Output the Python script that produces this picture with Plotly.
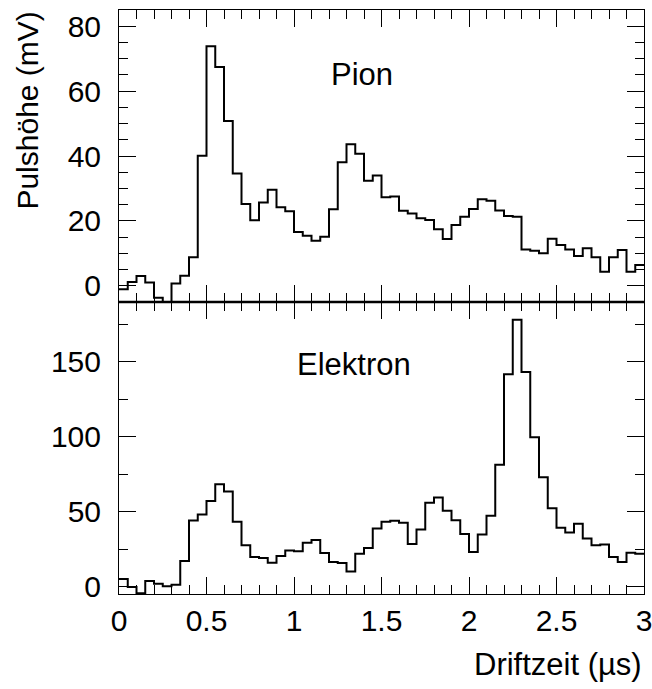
import numpy as np
import plotly.graph_objects as go

# Drift-time histograms: 60 bins of 0.05 us between 0 and 3 us
bin_width = 0.05
n_bins = 60

# Pulse height per drift-time bin (mV)
pion = [-1.1, 1.2, 3.0, 1.0, -3.7, -5.0, 0.7, 3.1, 8.8, 40.1,
        73.8, 67.4, 50.8, 34.6, 25.2, 20.2, 25.7, 29.6, 24.2, 23.0,
        16.6, 15.4, 13.9, 15.1, 23.6, 38.1, 43.6, 40.7, 32.4, 34.0,
        27.3, 27.5, 23.1, 22.3, 20.8, 20.3, 17.4, 14.4, 18.7, 21.3,
        23.7, 26.7, 26.2, 23.2, 21.5, 21.3, 11.2, 10.8, 10.0, 14.5,
        12.6, 11.2, 9.2, 11.6, 8.8, 4.3, 8.8, 11.0, 4.3, 6.4]

elektron = [5.1, -0.4, -4.5, 3.6, 1.8, 0.2, 1.1, 17.0, 44.1, 48.1,
            57.1, 68.3, 63.4, 43.2, 27.5, 19.7, 19.0, 15.9, 20.4, 24.0,
            23.5, 29.3, 31.1, 22.4, 16.3, 15.7, 10.1, 21.9, 25.7, 38.7,
            43.2, 43.9, 42.5, 28.4, 38.1, 56.0, 59.5, 50.6, 44.3, 35.1,
            23.1, 34.7, 47.2, 81.3, 141.7, 178.2, 143.3, 99.6, 73.0, 52.2,
            39.2, 36.0, 41.9, 32.0, 27.5, 28.0, 19.7, 16.3, 22.6, 21.9]

x_ticks = [0, 0.5, 1, 1.5, 2, 2.5, 3]
x_ticklabels = ["0", "0.5", "1", "1.5", "2", "2.5", "3"]

edges = np.arange(n_bins + 1) * bin_width


def step_trace(values, xa, ya):
    # left bin edges plus the closing right edge, drawn as a histogram outline
    return go.Scatter(
        x=list(edges),
        y=list(values) + [values[-1]],
        mode="lines",
        line=dict(shape="hv", color="black", width=2),
        xaxis=xa, yaxis=ya, showlegend=False, hoverinfo="skip",
    )


FONT = "Liberation Sans, Arial, Helvetica, sans-serif"

fig = go.Figure()
fig.add_trace(step_trace(pion, "x2", "y2"))
fig.add_trace(step_trace(elektron, "x", "y"))

common_x = dict(
    range=[0, 3], showline=True, linecolor="black", linewidth=1, mirror="allticks",
    ticks="inside", ticklen=17, tickwidth=1, tickcolor="black",
    tickvals=x_ticks, ticktext=x_ticklabels, ticklabeloverflow="allow",
    automargin=False,
    minor=dict(dtick=0.1, tick0=0, ticks="inside", ticklen=9, tickcolor="black", tickwidth=1),
    showgrid=False, zeroline=False,
)
common_y = dict(
    showline=True, linecolor="black", linewidth=1, mirror="allticks",
    ticks="inside", ticklen=17, tickwidth=1, tickcolor="black", automargin=False,
    showgrid=False, zeroline=False, ticklabelstandoff=11,
)

fig.update_layout(
    width=652, height=689,
    margin=dict(l=119, r=8, t=10, b=95, autoexpand=False),
    paper_bgcolor="white", plot_bgcolor="white",
    font=dict(family=FONT, size=30, color="black"),
    xaxis=dict(**common_x, domain=[0, 1], anchor="y", ticklabelstandoff=0),
    xaxis2=dict(**common_x, domain=[0, 1], anchor="y2", matches="x", showticklabels=False),
    yaxis=dict(**common_y, domain=[0, 0.5], anchor="x", range=[-5, 190],
               tick0=0, dtick=50,
               minor=dict(dtick=25, tick0=0, ticks="inside", ticklen=9, tickcolor="black", tickwidth=1)),
    yaxis2=dict(**common_y, domain=[0.5, 1], anchor="x2", range=[-5, 85],
                tick0=0, dtick=20,
                minor=dict(dtick=5, tick0=0, ticks="inside", ticklen=9, tickcolor="black", tickwidth=1)),
    annotations=[
        dict(text="Pion", x=1.39, y=65, xref="x2", yref="y2", showarrow=False,
             font=dict(size=31), xanchor="center", yanchor="middle"),
        dict(text="Elektron", x=1.34, y=148, xref="x", yref="y", showarrow=False,
             font=dict(size=31), xanchor="center", yanchor="middle"),
        dict(text="Driftzeit (\u00b5s)", x=1.0, y=-0.12, xref="paper", yref="paper",
             showarrow=False, font=dict(size=31), xanchor="right", yanchor="middle"),
        dict(text="Pulsh\u00f6he (mV)", x=-0.176, y=1.0, xref="paper", yref="paper",
             showarrow=False, font=dict(size=30), textangle=-90,
             xanchor="center", yanchor="top"),
    ],
    shapes=[
        # heavier divider where the two panels meet
        dict(type="line", xref="paper", yref="paper", x0=0, x1=1, y0=0.5, y1=0.5,
             line=dict(color="black", width=2.5)),
    ],
)

fig.write_html("out.html")
